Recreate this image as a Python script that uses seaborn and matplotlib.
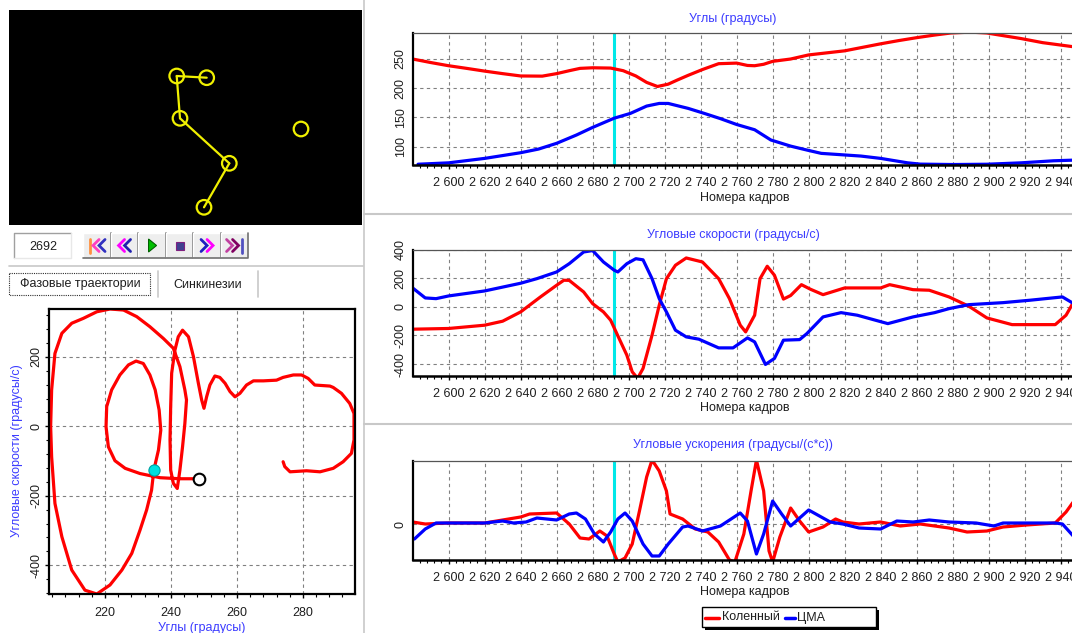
import numpy as np
import pandas as pd
import matplotlib
matplotlib.use("Agg")
import matplotlib.pyplot as plt
import seaborn as sns
from matplotlib.patches import Rectangle, Polygon
from matplotlib.ticker import MultipleLocator, FuncFormatter

# ---------------- data ----------------
current_frame = 2692
series_names = ["Коленный", "ЦМА"]
series_colors = {"Коленный": "#ff0000", "ЦМА": "#0000ff"}

# angles (degrees)
knee_angle_frames = [2580, 2590, 2600, 2610, 2620, 2630, 2640, 2652, 2660, 2667, 2673, 2680, 2690,
                     2697, 2704, 2710, 2716, 2722, 2727, 2733, 2741, 2750, 2760, 2766, 2770, 2775,
                     2780, 2790, 2800, 2810, 2820, 2830, 2840, 2850, 2860, 2870, 2879, 2890, 2899,
                     2910, 2918, 2930, 2947]
knee_angle = [250, 244, 238.5, 234, 229.3, 225, 221, 220.7, 225, 230, 234, 235, 234.5,
              230, 221, 210, 203, 207, 214, 222, 232, 242, 243, 239, 238.5, 241,
              246, 250, 257, 260.5, 264, 270, 276, 281.5, 286.5, 291, 294.5, 296, 294.5,
              289, 285, 278, 271]
cma_angle_frames = [2583, 2600, 2620, 2640, 2650, 2660, 2671, 2680, 2692, 2701, 2710, 2717, 2722,
                    2733, 2742, 2751, 2760, 2770, 2779, 2790, 2799, 2807, 2829, 2840, 2855, 2862,
                    2880, 2899, 2918, 2936, 2947]
cma_angle = [70, 72.4, 80, 89.7, 96, 105.8, 120, 133, 148.8, 157, 169.5, 174, 174,
             165.6, 157, 148, 138, 129, 111.5, 101, 94.3, 88.6, 84, 80, 72.4, 70.2,
             69.5, 70, 72.4, 75.9, 77]

# angular velocities (degrees/s)
knee_vel_frames = [2580, 2600, 2620, 2630, 2640, 2651, 2660, 2664, 2667, 2675, 2680, 2686, 2690,
                   2693, 2699, 2702, 2705, 2708, 2713, 2717, 2721, 2726, 2732, 2741, 2750, 2756,
                   2762, 2765, 2770, 2773, 2777, 2781, 2786, 2790, 2796, 2801, 2808, 2820, 2840,
                   2845, 2858, 2867, 2878, 2889, 2899, 2913, 2937, 2943, 2947]
knee_vel = [-156, -151, -128, -100, -35, 70, 152, 187, 186, 105, 23, -35, -93,
            -175, -338, -455, -500, -431, -198, 12, 198, 292, 343, 315, 198, 58,
            -128, -175, -58, 198, 285, 222, 55, 80, 156, 124, 86, 133, 133,
            156, 121, 117, 70, 5, -77, -124, -124, -58, 30]
cma_vel_frames = [2580, 2587, 2593, 2600, 2620, 2640, 2649, 2660, 2667, 2675, 2680, 2686, 2692,
                  2694, 2699, 2704, 2708, 2713, 2717, 2721, 2726, 2732, 2739, 2750, 2758, 2766,
                  2770, 2776, 2781, 2786, 2795, 2799, 2808, 2818, 2827, 2844, 2858, 2870, 2878,
                  2889, 2908, 2923, 2937, 2941, 2947]
cma_vel = [133, 63, 58, 77, 112, 166, 198, 245, 303, 385, 395, 315, 257,
           245, 303, 338, 330, 198, 58, -35, -163, -210, -226, -287, -287, -217,
           -245, -403, -361, -233, -229, -187, -70, -40, -58, -117, -70, -40, -12,
           16, 30, 47, 65, 70, 25]

# angular accelerations (degrees/(s*s))
knee_acc_frames = [2580, 2587, 2600, 2620, 2630, 2640, 2645, 2660, 2667, 2673, 2678, 2684, 2688,
                   2692, 2694, 2698, 2702, 2706, 2710, 2713, 2717, 2721, 2723, 2730, 2737, 2744,
                   2750, 2756, 2759, 2764, 2768, 2771, 2775, 2778, 2780, 2784, 2790, 2795, 2800,
                   2808, 2815, 2819, 2828, 2840, 2851, 2862, 2878, 2888, 2899, 2908, 2921, 2937,
                   2943, 2947]
knee_acc = [200, 0, 100, 100, 400, 700, 1000, 1100, 0, -1400, -1500, -700, -1200,
            -3000, -3800, -3400, -2000, 1300, 4700, 6400, 5300, 3300, 1000, 500, -500, -800,
            -1800, -3600, -3800, -1000, 3300, 6400, 3300, -2700, -3800, -1300, 1600, 300, -800,
            -300, 500, 200, 0, 200, -200, 0, -400, -800, -700, -300, -100, 100,
            1200, 2200]
cma_acc_frames = [2581, 2587, 2593, 2600, 2620, 2630, 2636, 2643, 2649, 2660, 2667, 2671, 2676,
                  2681, 2686, 2690, 2694, 2698, 2702, 2708, 2713, 2717, 2722, 2730, 2733, 2741,
                  2751, 2762, 2766, 2771, 2775, 2780, 2785, 2790, 2800, 2806, 2812, 2819, 2828,
                  2840, 2849, 2858, 2867, 2878, 2893, 2903, 2908, 2921, 2937, 2941, 2947]
cma_acc = [-1500, -500, 100, 100, 100, 300, 100, 200, 600, 400, 1000, 1100, 500,
           -1000, -1800, -800, 500, 1100, 300, -2000, -3200, -3200, -2000, -300, -200, -700,
           -200, 1100, 300, -3000, -1000, 2300, 1000, -200, 1400, 800, 200, 0, -400,
           -500, 300, 200, 400, 200, 100, -200, 100, 100, 100, 0, -1200]

# phase trajectory of the knee: angle (degrees) vs angular velocity (degrees/s)
phase_angle = [248.5, 242.7, 236.7, 230.6, 226.1, 223.0, 221.0, 220.3, 220.5, 222.0, 224.5, 227.1,
               229.4, 231.6, 233.6, 235.2, 236.4, 236.9, 236.2, 234.8, 234.1, 232.6, 230.6, 228.1,
               225.1, 221.5, 217.5, 213.9, 209.9, 206.9, 204.8, 203.8, 203.5, 203.8, 204.8, 206.9,
               209.9, 213.4, 217.5, 221.5, 225.6, 229.6, 233.6, 237.7, 240.7, 242.7, 244.2, 244.7,
               244.2, 243.5, 242.7, 241.9, 240.7, 239.9, 239.7, 239.9, 240.2, 241.2, 242.2, 243.5,
               245.3, 246.8, 248.3, 249.3, 250.0, 250.8, 251.8, 253.3, 254.8, 256.4, 257.9, 259.4,
               260.9, 262.9, 265.0, 268.0, 272.0, 274.0, 277.1, 279.6, 281.6, 283.6, 288.2, 289.2,
               291.7, 294.2, 295.5, 295.5, 295.5, 294.7, 292.2, 289.2, 285.2, 281.1, 276.1, 274.5,
               274.0]
phase_vel = [-151, -151, -148, -136, -121, -99, -59, -1, 57, 105, 148, 177,
             188, 181, 148, 105, 47, -11, -68, -126, -184, -241, -299, -366,
             -414, -457, -483, -472, -414, -318, -222, -88, 0, 105, 210, 268,
             297, 311, 330, 338, 335, 316, 287, 253, 225, 172, 105, 76,
             8, -59, -126, -179, -164, -126, -39, 57, 153, 220, 258, 277,
             258, 201, 124, 76, 52, 85, 119, 145, 141, 124, 100, 85,
             95, 119, 131, 131, 133, 141, 148, 148, 138, 119, 116, 112,
             95, 66, 37, 0, -39, -78, -102, -121, -131, -128, -131, -116,
             -102]
phase_current = (234.8, -126)

# skeleton in the video frame (screen pixels)
joint_x = [176.7, 206.7, 180.0, 229.3, 204.0, 301.0]
joint_y = [76.0, 77.7, 118.3, 163.3, 207.3, 129.0]
bones = [(0, 1), (0, 2), (2, 3), (3, 4)]

x_tick_step = 20
angle_yticks = [100, 150, 200, 250]
vel_yticks = [-400, -200, 0, 200, 400]
acc_yticks = [0]
phase_xticks = [220, 240, 260, 280]
phase_yticks = [-400, -200, 0, 200]

# ---------------- figure ----------------
sns.set_style("white")
plt.rcParams['font.family'] = ['Liberation Sans', 'DejaVu Sans']
plt.rcParams['font.size'] = 9
plt.rcParams['axes.unicode_minus'] = False

W, H = 1072, 633
fig = plt.figure(figsize=(W / 100, H / 100), dpi=100)


def rect(x0, y0, x1, y1):
    return [x0 / W, 1 - y1 / H, (x1 - x0) / W, (y1 - y0) / H]


TITLE_C = "#3c3cff"
TXT_C = "#1e1e1e"
X_LEFT = 2580.2
X_RIGHT = X_LEFT + (1072 - 413) / 1.8


def long_df(pairs):
    rows = []
    for name, fr, vals in pairs:
        for f, v in zip(fr, vals):
            rows.append({"frame": f, "value": v, "series": name})
    return pd.DataFrame(rows)


def fmt_frame(v, p):
    return f"{int(round(v)):,}".replace(",", " ")


def style_ts(ax, yticks, ylim):
    ax.set_xlim(X_LEFT, X_RIGHT)
    ax.set_ylim(*ylim)
    ax.xaxis.set_major_locator(MultipleLocator(x_tick_step))
    ax.xaxis.set_minor_locator(MultipleLocator(4))
    ax.xaxis.set_major_formatter(FuncFormatter(fmt_frame))
    ax.set_yticks(yticks)
    ax.grid(True, which='major', color='#808080', linestyle=(0, (3, 3)), linewidth=0.8)
    ax.tick_params(axis='x', which='major', length=3, width=1, pad=5.5, labelcolor=TXT_C,
                   labelsize=9, direction='out', bottom=True, color='black')
    ax.tick_params(axis='x', which='minor', length=2, width=0.8, direction='out', bottom=True,
                   color='black')
    ax.tick_params(axis='y', length=0, pad=4.5, labelsize=9, labelcolor=TXT_C)
    for lab in ax.get_yticklabels():
        lab.set_rotation(90)
        lab.set_va('center')
    ax.spines['left'].set_linewidth(1.6)
    ax.spines['left'].set_color('black')
    ax.spines['bottom'].set_linewidth(1.8)
    ax.spines['bottom'].set_color('black')
    ax.spines['top'].set_linewidth(0.9)
    ax.spines['top'].set_color('#555555')
    ax.spines['right'].set_visible(False)
    ax.set_xlabel('')
    ax.set_ylabel('')
    ax.axvline(current_frame, color='#00e8e8', lw=2.2, zorder=1.5)


def ts_panel(y0, y1, pairs, yticks, ylim, title, title_y, label_y):
    ax = fig.add_axes(rect(413, y0, 1072, y1))
    df = long_df(pairs)
    sns.lineplot(data=df, x="frame", y="value", hue="series", palette=series_colors,
                 linewidth=2.3, legend=False, ax=ax, sort=False, estimator=None)
    style_ts(ax, yticks, ylim)
    fig.text(733 / W, 1 - title_y / H, title, ha='center', va='center', color=TITLE_C, fontsize=9)
    fig.text(745 / W, 1 - label_y / H, "Номера кадров", ha='center', va='center', color=TXT_C,
             fontsize=9)
    return ax


ts_panel(33, 165, [("Коленный", knee_angle_frames, knee_angle), ("ЦМА", cma_angle_frames, cma_angle)],
         angle_yticks, (68.7, 294.5), "Углы (градусы)", 19, 198)
ts_panel(249.7, 376, [("Коленный", knee_vel_frames, knee_vel), ("ЦМА", cma_vel_frames, cma_vel)],
         vel_yticks, (-484, 401), "Угловые скорости (градусы/с)", 235, 408.5)
ts_panel(460.7, 560, [("Коленный", knee_acc_frames, knee_acc), ("ЦМА", cma_acc_frames, cma_acc)],
         acc_yticks, (-3600, 6330), "Угловые ускорения (градусы/(с*с))", 445, 592)

# ---------------- phase plot ----------------
axp = fig.add_axes(rect(49, 309, 355, 594))
sns.lineplot(x=phase_angle, y=phase_vel, sort=False, estimator=None, color='#ff0000',
             linewidth=2.3, ax=axp)
sns.scatterplot(x=[phase_angle[0]], y=[phase_vel[0]], s=70, facecolor='white', edgecolor='black',
                linewidth=1.5, ax=axp, zorder=5)
sns.scatterplot(x=[phase_current[0]], y=[phase_current[1]], s=65, color='#00e0e0', edgecolor='#00a0a0',
                linewidth=0.8, ax=axp, zorder=5)
axp.set_xlim(203, 295.8)
axp.set_ylim(-483, 338)
axp.set_xticks(phase_xticks)
axp.set_yticks(phase_yticks)
axp.xaxis.set_minor_locator(MultipleLocator(4))
axp.yaxis.set_minor_locator(MultipleLocator(40))
axp.grid(True, which='major', color='#808080', linestyle=(0, (3, 3)), linewidth=0.8)
axp.tick_params(axis='both', which='major', length=3, width=1, direction='out', color='black',
                labelsize=9, labelcolor=TXT_C, bottom=True, left=True)
axp.tick_params(axis='both', which='minor', length=2, width=0.8, direction='out', color='black',
                bottom=True, left=True)
axp.tick_params(axis='x', pad=6.5)
axp.tick_params(axis='y', pad=1.5)
for lab in axp.get_yticklabels():
    lab.set_rotation(90)
    lab.set_va('center')
for s in axp.spines.values():
    s.set_color('black')
    s.set_linewidth(1.6)
axp.set_xlabel('')
axp.set_ylabel('')
fig.text(202 / W, 1 - 628 / H, "Углы (градусы)", ha='center', va='center', color=TITLE_C, fontsize=9)
fig.text(16.7 / W, 1 - 451 / H, "Угловые скорости (градусы/с)", ha='center', va='center',
         color=TITLE_C, fontsize=9, rotation=90)

# ---------------- video frame ----------------
axv = fig.add_axes(rect(9, 10, 362, 225))
axv.set_facecolor('black')
axv.set_xlim(9, 362)
axv.set_ylim(225, 10)
for a, b in bones:
    axv.plot([joint_x[a], joint_x[b]], [joint_y[a], joint_y[b]], color='#f0f000', lw=1.6)
sns.scatterplot(x=joint_x, y=joint_y, s=110, facecolor='none', edgecolor='#f0f000', linewidth=1.6,
                ax=axv, zorder=3)
axv.set_xticks([])
axv.set_yticks([])
axv.set_xlabel('')
axv.set_ylabel('')
for s in axv.spines.values():
    s.set_visible(False)

# ---------------- UI chrome ----------------
ui = fig.add_axes([0, 0, 1, 1])
ui.set_xlim(0, W)
ui.set_ylim(H, 0)
ui.axis('off')
ui.set_zorder(10)
ui.patch.set_alpha(0)

sep = '#c8c8c8'
ui.plot([363.5, 363.5], [0, H], color=sep, lw=1.2)
ui.plot([364, W], [213.5, 213.5], color=sep, lw=1.5)
ui.plot([364, W], [424, 424], color=sep, lw=1.5)
ui.plot([9, 363], [266, 266], color=sep, lw=1.2)

# frame counter box
ui.add_patch(Rectangle((14, 233), 57, 25, facecolor='white', edgecolor='none'))
ui.plot([14, 14, 71], [258, 233, 233], color='#a0a0a0', lw=1)
ui.plot([14, 71, 71], [258, 258, 233], color='#e8e8e8', lw=1)
ui.text(43, 246.5, str(current_frame), ha='center', va='center', fontsize=9, color=TXT_C)

# buttons
btn_edges = [83.3, 110.8, 138.3, 165.8, 193.3, 220.8, 248.3]
cy = 245.5
for i in range(6):
    x0, x1 = btn_edges[i], btn_edges[i + 1]
    ui.add_patch(Rectangle((x0, 233), x1 - x0, 25, facecolor='#eeeeee', edgecolor='none'))
    ui.plot([x0, x0, x1], [258, 233, 233], color='white', lw=1)
    ui.plot([x0, x1, x1], [258, 258, 233], color='#707070', lw=1.2)


def chev(cx, direction, color):
    d = 3 * direction
    ui.plot([cx - d, cx + d, cx - d], [cy - 6, cy, cy + 6], color=color, lw=2.0,
            solid_joinstyle='miter')


centers = [(btn_edges[i] + btn_edges[i + 1]) / 2 for i in range(6)]
c = centers[0]
ui.plot([c - 7, c - 7], [cy - 7, cy + 7], color='#ff9040', lw=2)
chev(c - 1, -1, '#ff40c0')
chev(c + 5, -1, '#3030c0')
c = centers[1]
chev(c - 3, -1, '#ff00ff')
chev(c + 3, -1, '#2020b0')
c = centers[2]
ui.add_patch(Polygon([(c - 3.5, cy - 6.5), (c + 4.5, cy), (c - 3.5, cy + 6.5)], closed=True,
                     facecolor='#00c000', edgecolor='#006000', lw=0.8))
c = centers[3]
ui.add_patch(Rectangle((c - 4, cy - 4), 8, 8, facecolor='#404090', edgecolor='#802080', lw=0.8))
c = centers[4]
chev(c - 3, 1, '#2020c0')
chev(c + 3, 1, '#ff00ff')
c = centers[5]
chev(c - 5, 1, '#c040a0')
chev(c + 1, 1, '#800060')
ui.plot([c + 7, c + 7], [cy - 7, cy + 7], color='#5050c0', lw=2)

# tabs
ui.add_patch(Rectangle((9, 273), 141, 22, facecolor='none', edgecolor='#303030', lw=0.8,
                       linestyle=(0, (1, 1))))
ui.text(80, 284.5, "Фазовые траектории", ha='center', va='center', fontsize=9, color=TXT_C)
ui.text(208, 284.5, "Синкинезии", ha='center', va='center', fontsize=9, color=TXT_C)
ui.plot([157.5, 157.5], [271, 297], color=sep, lw=1.2)
ui.plot([257.5, 257.5], [271, 297], color=sep, lw=1.2)

# legend
ui.add_patch(Rectangle((705, 610), 174, 20, facecolor='black', edgecolor='none'))
ui.add_patch(Rectangle((702, 607), 174, 20, facecolor='white', edgecolor='black', lw=1))
ui.plot([705, 719], [617.5, 617.5], color=series_colors["Коленный"], lw=2.5)
ui.text(722, 617.5, series_names[0], ha='left', va='center', fontsize=9, color=TXT_C)
ui.plot([785, 795], [617.5, 617.5], color=series_colors["ЦМА"], lw=2.5)
ui.text(797, 617.5, series_names[1], ha='left', va='center', fontsize=9, color=TXT_C)

fig.savefig("out.png", dpi=100)
